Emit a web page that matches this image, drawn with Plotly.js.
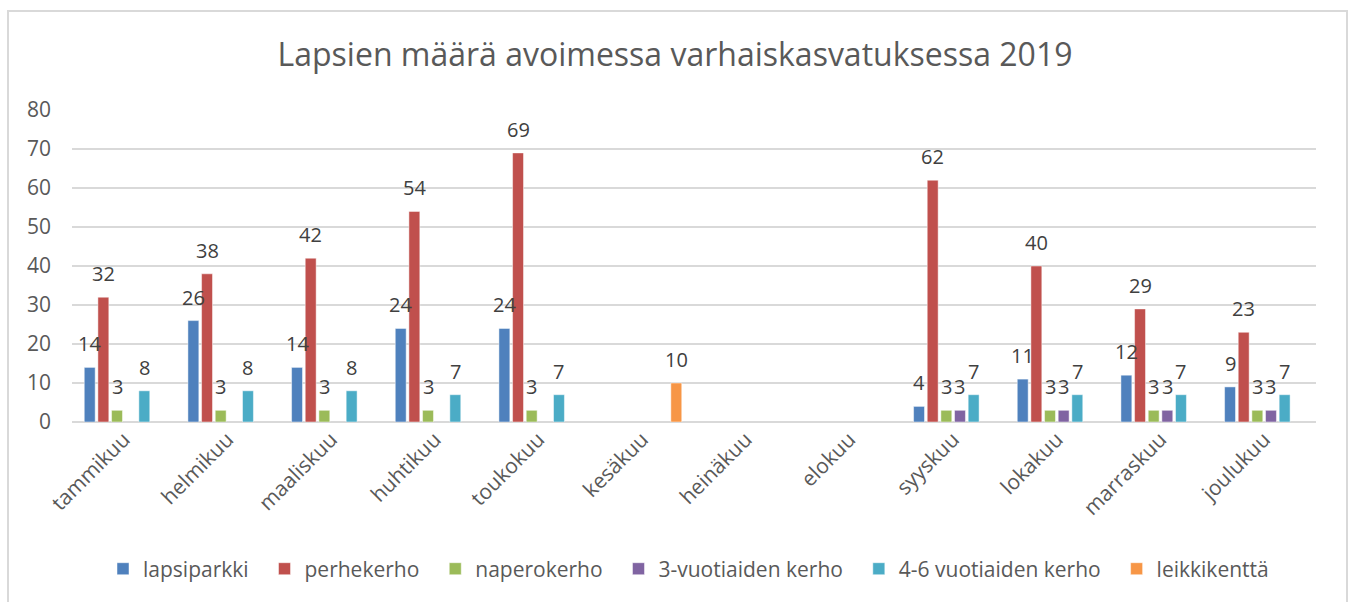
<!DOCTYPE html>
<html><head><meta charset="utf-8">
<script src="https://cdn.plot.ly/plotly-3.0.1.min.js"></script>
<style>
html,body{margin:0;padding:0;background:#fff;}
#chart{position:absolute;left:0;top:0;width:1350px;height:602px;}
#frame{position:absolute;left:7px;top:10px;width:1337px;height:600px;border:2px solid #d9d9d9;pointer-events:none;}
</style></head>
<body>
<div id="chart"></div>
<div id="frame"></div>
<script>
const months = ["tammikuu","helmikuu","maaliskuu","huhtikuu","toukokuu","kesäkuu","heinäkuu","elokuu","syyskuu","lokakuu","marraskuu","joulukuu"];
const lapsiparkki = [14,26,14,24,24,null,null,null,4,11,12,9];
const perhekerho = [32,38,42,54,69,null,null,null,62,40,29,23];
const naperokerho = [3,3,3,3,3,null,null,null,3,3,3,3];
const kerho3v = [null,null,null,null,null,null,null,null,3,3,3,3];
const kerho46v = [8,8,8,7,7,null,null,null,7,7,7,7];
const leikkikentta = [null,null,null,null,null,10,null,null,null,null,null,null];

const seriesNames = ["lapsiparkki","perhekerho","naperokerho","3-vuotiaiden kerho","4-6 vuotiaiden kerho","leikkikenttä"];
const seriesValues = [lapsiparkki,perhekerho,naperokerho,kerho3v,kerho46v,leikkikentta];
const colors = ["#4f81bd","#c0504d","#9bbb59","#8064a2","#4bacc6","#f79646"];

const bargap = 0.21;
const n = seriesNames.length;
const slot = (1 - bargap) / n;

const font = "'Open Sans', Lato, 'Liberation Sans', sans-serif";

const traces = seriesNames.map((name,i)=>({
  type:'bar', name:name + '\u00a0\u00a0', x:months, y:seriesValues[i],
  marker:{color:colors[i], line:{color:'rgba(255,255,255,0.6)', width:0.8}},
  hoverinfo:'skip'
}));

const annotations = [];
seriesValues.forEach((vals,i)=>{
  vals.forEach((v,j)=>{
    if(v===null) return;
    annotations.push({
      x: j + (i - (n-1)/2) * slot, y: v, xref:'x', yref:'y',
      text: String(v), showarrow:false, yanchor:'bottom', yshift:8,
      font:{family:font, size:20, color:'#404040'}
    });
  });
});

const layout = {
  width:1350, height:602,
  margin:{l:72, r:34, t:110, b:178},
  paper_bgcolor:'#fff', plot_bgcolor:'#fff',
  barmode:'group', bargap:bargap, bargroupgap:0.2,
  title:{text:"Lapsien määrä avoimessa varhaiskasvatuksessa 2019", x:0.5, xanchor:'center', y:1-55/602, yref:'container', yanchor:'middle',
    font:{family:font, size:32, color:'#595959'}},
  xaxis:{type:'category', tickangle:-45, tickfont:{family:font, size:21, color:'#595959'},
    showgrid:false, showline:false, zeroline:false, ticks:'', automargin:false},
  yaxis:{range:[0,80], dtick:10, tickfont:{family:font, size:21, color:'#595959'},
    gridcolor:'#d9d9d9', gridwidth:1.5, zeroline:true, zerolinecolor:'#d9d9d9', zerolinewidth:1.5,
    showline:false, ticks:'', ticklen:0, ticklabelstandoff:20, automargin:false, fixedrange:true},
  legend:{orientation:'h', x:0.5, xanchor:'center', y:-(572-424)/314, yanchor:'middle',
    font:{family:font, size:21, color:'#595959'}, itemwidth:30, tracegroupgap:0},
  annotations:annotations,
  showlegend:true
};

Plotly.newPlot('chart', traces, layout, {displayModeBar:false, staticPlot:true});
</script>
</body></html>
